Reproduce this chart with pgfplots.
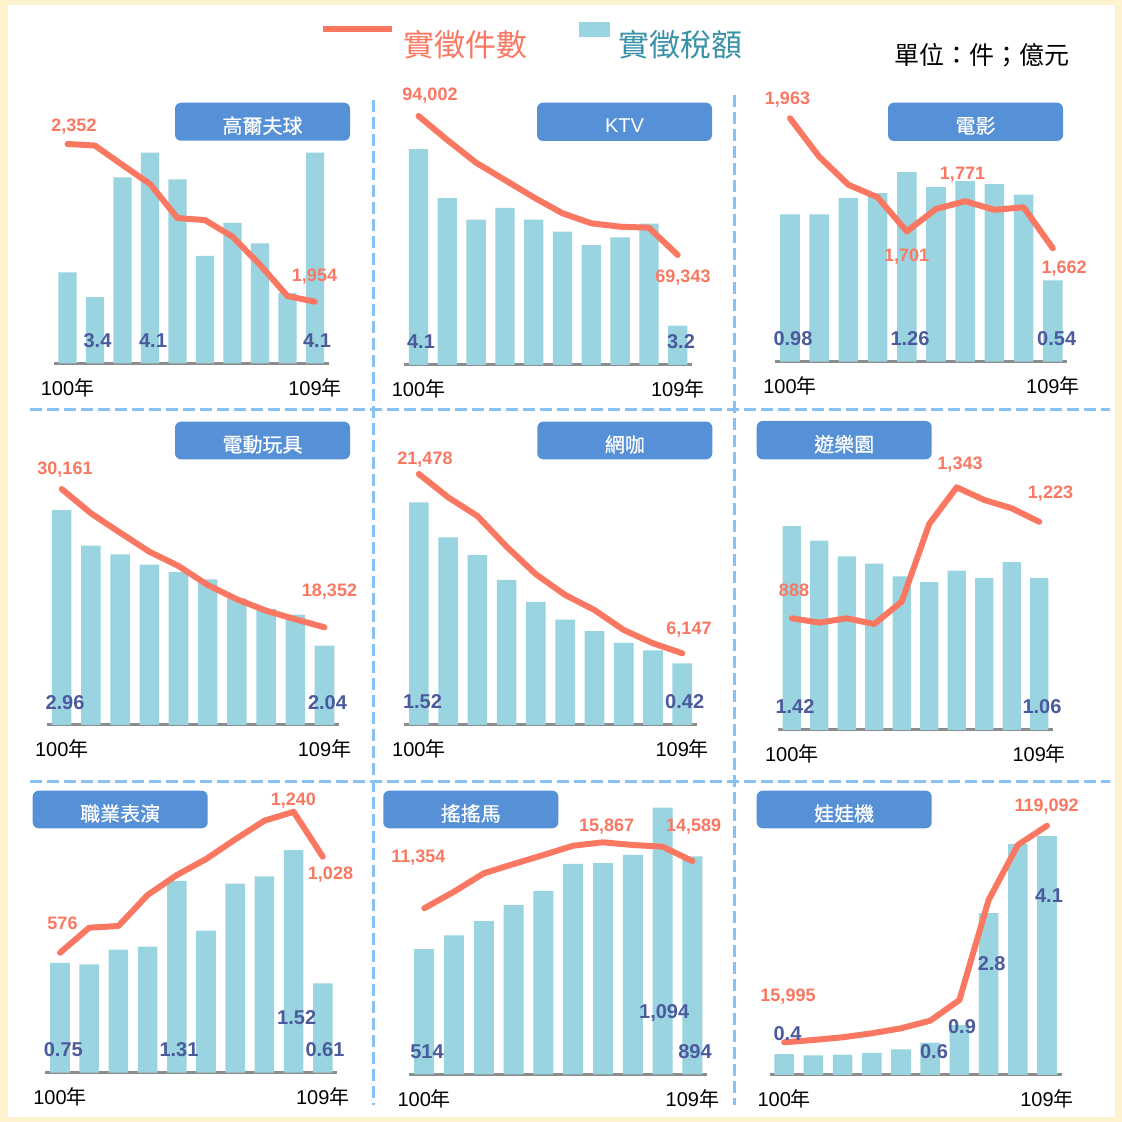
\documentclass[border=0pt]{standalone}
\usepackage{fontspec}
\setmainfont{Liberation Sans}
\newfontfamily\cjk{Noto Sans CJK TC}
\newfontfamily\cjkm[FakeBold=0.6]{Noto Sans CJK TC}
\usepackage{pgfplots}
\pgfplotsset{compat=1.18}
\definecolor{linec}{HTML}{FA7862}
\definecolor{barc}{HTML}{99D4E0}
\definecolor{valc}{HTML}{4B5A9C}
\definecolor{boxc}{HTML}{5690D6}
\definecolor{sepc}{HTML}{88C2F2}
\definecolor{cream}{HTML}{FDF3CF}
\definecolor{tealc}{HTML}{3A91A8}
\definecolor{axg}{HTML}{8C8C8C}
\pgfplotsset{
  barax/.style={scale only axis, height=280pt, xmin=-0.5, xmax=9.5, anchor=south west,
    axis x line=bottom, axis y line=none, x axis line style={-, line width=3pt, color=axg},
    xtick={0,9}, xticklabels={{100\cjk 年},{109\cjk 年}}, major tick length=0pt,
    xticklabel style={anchor=base, yshift=-32pt, font=\fontsize{20}{24}\selectfont, text=black},
    ytick=\empty, clip=true},
  lineax/.style={scale only axis, height=280pt, xmin=-0.5, xmax=9.5, anchor=south west,
    axis lines=none, clip=false},
  barp/.style={ybar, bar width=0.67, fill=barc, draw=none},
  linep/.style={line width=6pt, color=linec, line cap=round, line join=round, mark=none},
}
\tikzset{
  lv/.style={anchor=base, yshift=-6.4pt, text=linec, font=\fontsize{18}{20}\selectfont\bfseries, inner sep=0pt},
  bv/.style={anchor=base, yshift=-7.2pt, text=valc, font=\fontsize{20}{22}\selectfont\bfseries, inner sep=0pt},
  tbox/.style={fill=boxc, rounded corners=6pt},
  ttxt/.style={text=white, font=\fontsize{20}{22}\selectfont\cjkm, inner sep=0pt, yshift=-4pt},
}
\begin{document}
\begin{tikzpicture}[x=1pt,y=1pt]
\path[use as bounding box] (0,0) rectangle (1122,1122);
\fill[cream] (0,0) rectangle (1122,1122);
\begin{scope}[y=-1pt, shift={(0pt,1122pt)}]
\fill[white] (8,5) rectangle (1115,1117);
% separators
\draw[sepc, line width=3pt, dash pattern=on 12pt off 5pt] (373,100) -- (373,1105);
\draw[sepc, line width=3pt, dash pattern=on 12pt off 5pt] (734,95) -- (734,1105);
\draw[sepc, line width=3pt, dash pattern=on 12pt off 5pt] (30,410) -- (1110,410);
\draw[sepc, line width=3pt, dash pattern=on 12pt off 5pt] (30,782) -- (1110,782);
% legend
\draw[linec, line width=6pt] (323,29.5) -- (392,29.5);
\node[text=linec, font=\fontsize{31}{34}\selectfont\cjk, inner sep=0pt] at (465.5,45) {實徵件數};
\fill[barc] (579,22) rectangle (610,37);
\node[text=tealc, font=\fontsize{31}{34}\selectfont\cjk, inner sep=0pt] at (680.5,45) {實徵稅額};
\node[text=black, font=\fontsize{25}{28}\selectfont\cjk, inner sep=0pt] at (982,55) {單位：件；億元};
% title boxes
\fill[tbox] (175,102.7) rectangle (350,140.7);  \node[ttxt] at (262.5,121.7) {高爾夫球};
\fill[tbox] (537,102.7) rectangle (712,141);    \node[ttxt, font=\fontsize{20}{22}\selectfont] at (624.5,121.8) {KTV};
\fill[tbox] (888,102.7) rectangle (1063,141);   \node[ttxt] at (975.5,121.8) {電影};
\fill[tbox] (175,421.7) rectangle (350,459.3);  \node[ttxt] at (262.5,440.5) {電動玩具};
\fill[tbox] (537.3,421.7) rectangle (712.3,459.3); \node[ttxt] at (624.8,440.5) {網咖};
\fill[tbox] (756.7,421) rectangle (931.7,459.3); \node[ttxt] at (844.2,440.2) {遊樂園};
\fill[tbox] (32.7,790.7) rectangle (207.7,828.3); \node[ttxt] at (120.2,809.5) {職業表演};
\fill[tbox] (383.3,790.7) rectangle (558.3,828.3); \node[ttxt] at (470.8,809.5) {搖搖馬};
\fill[tbox] (756.7,790.7) rectangle (931.7,828.3); \node[ttxt] at (844.2,809.5) {娃娃機};
\end{scope}

% ---------- Panel 1: golf
\begin{axis}[barax, at={(53.75pt,758.7pt)}, width=275pt, ymin=3.08, ymax=4.4353]
\addplot[barp] coordinates {(0,3.52)(1,3.40)(2,3.98)(3,4.10)(4,3.97)(5,3.60)(6,3.76)(7,3.66)(8,3.42)(9,4.10)};
\end{axis}
\begin{axis}[lineax, at={(53.75pt,758.7pt)}, width=275pt, ymin=1798.5, ymax=2505.2]
\addplot[linep] coordinates {(0,2352)(1,2348)(2,2299)(3,2251)(4,2165)(5,2160)(6,2118)(7,2047)(8,1968)(9,1954)};
\end{axis}
% ---------- Panel 2: KTV
\begin{axis}[barax, at={(404.1pt,757pt)}, width=288pt, ymin=3.0, ymax=4.4264]
\addplot[barp] coordinates {(0,4.10)(1,3.85)(2,3.74)(3,3.80)(4,3.74)(5,3.68)(6,3.61)(7,3.65)(8,3.72)(9,3.20)};
\end{axis}
\begin{axis}[lineax, at={(404.1pt,757pt)}, width=288pt, ymin=49830, ymax=99502]
\addplot[linep] coordinates {(0,94002)(1,89744)(2,85718)(3,82648)(4,79579)(5,76741)(6,74967)(7,74364)(8,74187)(9,69343)};
\end{axis}
% ---------- Panel 3: movie
\begin{axis}[barax, at={(775.4pt,760.3pt)}, width=292pt, ymin=0, ymax=1.8617]
\addplot[barp] coordinates {(0,0.98)(1,0.98)(2,1.09)(3,1.12)(4,1.26)(5,1.16)(6,1.20)(7,1.18)(8,1.11)(9,0.54)};
\end{axis}
\begin{axis}[lineax, at={(775.4pt,760.3pt)}, width=292pt, ymin=1399.4, ymax=2047.7]
\addplot[linep] coordinates {(0,1963)(1,1874)(2,1809)(3,1780)(4,1701)(5,1753)(6,1771)(7,1751)(8,1757)(9,1662)};
\end{axis}
% ---------- Panel 4: arcade
\begin{axis}[barax, at={(47.1pt,397pt)}, width=292pt, ymin=1.5, ymax=3.4035]
\addplot[barp] coordinates {(0,2.96)(1,2.72)(2,2.66)(3,2.59)(4,2.54)(5,2.49)(6,2.36)(7,2.29)(8,2.25)(9,2.04)};
\end{axis}
\begin{axis}[lineax, at={(47.1pt,397pt)}, width=292pt, ymin=10009, ymax=33918]
\addplot[linep] coordinates {(0,30161)(1,28086)(2,26430)(3,24807)(4,23586)(5,21964)(6,20742)(7,19769)(8,19035)(9,18352)};
\end{axis}
% ---------- Panel 5: internet cafe
\begin{axis}[barax, at={(404.2pt,397pt)}, width=292.7pt, ymin=0, ymax=1.9113]
\addplot[barp] coordinates {(0,1.52)(1,1.28)(2,1.16)(3,0.99)(4,0.84)(5,0.72)(6,0.64)(7,0.56)(8,0.51)(9,0.42)};
\end{axis}
\begin{axis}[lineax, at={(404.2pt,397pt)}, width=292.7pt, ymin=16, ymax=23958]
\addplot[linep] coordinates {(0,21478)(1,19486)(2,17887)(3,15262)(4,12902)(5,11132)(6,9849)(7,8139)(8,7002)(9,6147)};
\end{axis}
% ---------- Panel 6: amusement park
\begin{axis}[barax, at={(778pt,392pt)}, width=275pt, ymin=0, ymax=1.9512]
\addplot[barp] coordinates {(0,1.42)(1,1.32)(2,1.21)(3,1.16)(4,1.07)(5,1.03)(6,1.11)(7,1.06)(8,1.17)(9,1.06)};
\end{axis}
\begin{axis}[lineax, at={(778pt,392pt)}, width=275pt, ymin=500, ymax=1472.6]
\addplot[linep] coordinates {(0,888)(1,873)(2,888)(3,868)(4,946)(5,1216)(6,1343)(7,1299)(8,1270)(9,1223)};
\end{axis}
% ---------- Panel 7: performances
\begin{axis}[barax, at={(45.4pt,49.3pt)}, width=292pt, ymin=0, ymax=1.9113]
\addplot[barp] coordinates {(0,0.75)(1,0.74)(2,0.84)(3,0.86)(4,1.31)(5,0.97)(6,1.29)(7,1.34)(8,1.52)(9,0.61)};
\end{axis}
\begin{axis}[lineax, at={(45.4pt,49.3pt)}, width=292pt, ymin=11, ymax=1329.9]
\addplot[linep] coordinates {(0,576)(1,694)(2,702)(3,848)(4,942)(5,1017)(6,1110)(7,1198)(8,1240)(9,1028)};
\end{axis}
% ---------- Panel 8: kiddie rides
\begin{axis}[barax, at={(409.3pt,47.7pt)}, width=298pt, ymin=0, ymax=1148.9]
\addplot[barp] coordinates {(0,514)(1,570)(2,628)(3,695)(4,752)(5,863)(6,867)(7,900)(8,1094)(9,894)};
\end{axis}
\begin{axis}[lineax, at={(409.3pt,47.7pt)}, width=298pt, ymin=4, ymax=19149]
\addplot[linep] coordinates {(0,11354)(1,12489)(2,13747)(3,14383)(4,14998)(5,15634)(6,15867)(7,15682)(8,15566)(9,14589)};
\end{axis}
% ---------- Panel 9: claw machines
\begin{axis}[barax, at={(769.6pt,47pt)}, width=292pt, ymin=0, ymax=4.8276]
\addplot[barp] coordinates {(0,0.36)(1,0.34)(2,0.35)(3,0.38)(4,0.44)(5,0.56)(6,0.86)(7,2.79)(8,3.98)(9,4.12)};
\end{axis}
\begin{axis}[lineax, at={(769.6pt,47pt)}, width=292pt, ymin=430, ymax=133706]
\addplot[linep] coordinates {(0,15995)(1,17090)(2,18375)(3,20279)(4,22659)(5,26276)(6,36129)(7,83728)(8,109907)(9,119092)};
\end{axis}

% ---------- value labels
\begin{scope}[y=-1pt, shift={(0pt,1122pt)}]
\node[lv] at (74,125) {2,352};   \node[lv] at (314.5,275) {1,954};
\node[bv] at (97.5,340) {3.4};   \node[bv] at (153,340) {4.1};   \node[bv] at (317,340) {4.1};
\node[lv] at (430,94) {94,002};  \node[lv] at (683,276) {69,343};
\node[bv] at (421,341.7) {4.1};  \node[bv] at (681,341.7) {3.2};
\node[lv] at (787.5,98) {1,963}; \node[lv] at (906.7,255) {1,701}; \node[lv] at (962.5,173.3) {1,771}; \node[lv] at (1064.2,266.7) {1,662};
\node[bv] at (793,338.3) {0.98}; \node[bv] at (910,338.3) {1.26}; \node[bv] at (1056.7,338.3) {0.54};
\node[lv] at (65,468.3) {30,161}; \node[lv] at (329.5,590) {18,352};
\node[bv] at (65,702.7) {2.96};  \node[bv] at (327.5,702.7) {2.04};
\node[lv] at (425,458.3) {21,478}; \node[lv] at (689,628.3) {6,147};
\node[bv] at (422.5,701.7) {1.52}; \node[bv] at (684.7,701.7) {0.42};
\node[lv] at (794,590) {888}; \node[lv] at (960,463.3) {1,343}; \node[lv] at (1050.5,491.7) {1,223};
\node[bv] at (795,706) {1.42}; \node[bv] at (1042,706) {1.06};
\node[lv] at (62.5,923.3) {576}; \node[lv] at (293.3,799.3) {1,240}; \node[lv] at (330.5,873.3) {1,028};
\node[bv] at (63.3,1049.3) {0.75}; \node[bv] at (179,1049.3) {1.31}; \node[bv] at (296.7,1017.7) {1.52}; \node[bv] at (325,1049.3) {0.61};
\node[lv] at (418.3,856) {11,354}; \node[lv] at (606.7,825) {15,867}; \node[lv] at (693.7,825) {14,589};
\node[bv] at (427,1051.7) {514}; \node[bv] at (664.2,1011.7) {1,094}; \node[bv] at (695,1051.7) {894};
\node[lv] at (788,995) {15,995}; \node[lv] at (1046.7,805) {119,092};
\node[bv] at (787.5,1033.3) {0.4}; \node[bv] at (934,1051.7) {0.6}; \node[bv] at (962,1026) {0.9}; \node[bv] at (991.7,963.3) {2.8}; \node[bv] at (1049,895) {4.1};
\end{scope}
\end{tikzpicture}
\end{document}
